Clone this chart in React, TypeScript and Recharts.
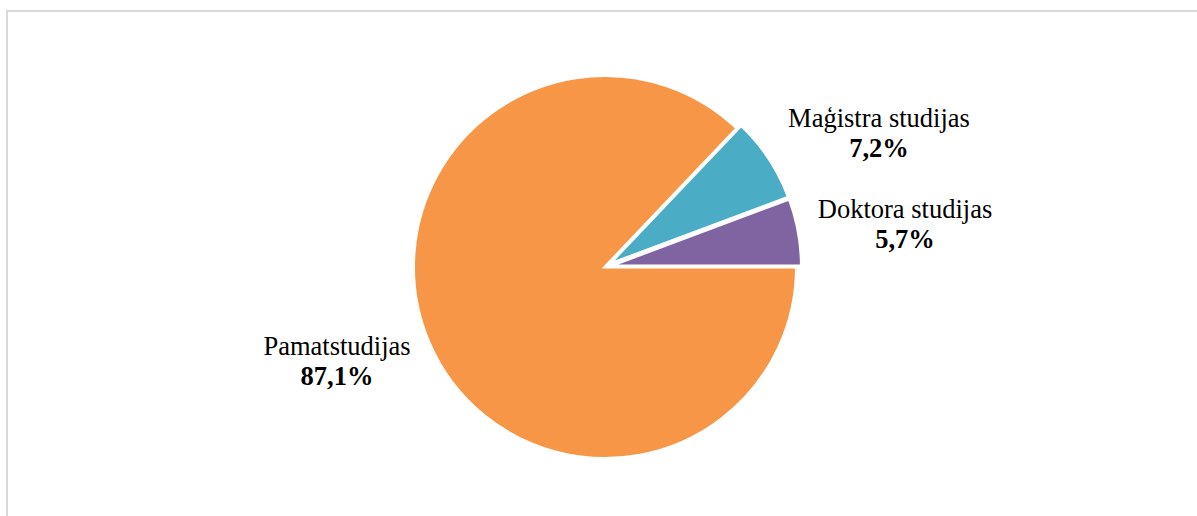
import { PieChart, Pie, Cell } from 'recharts';

// Study levels and their shares (%)
const categories = ['Doktora studijas', 'Maģistra studijas', 'Pamatstudijas'];
const shares = [5.7, 7.2, 87.1];
const labels = ['5,7%', '7,2%', '87,1%'];
const colors = ['#8064A2', '#4BACC6', '#F79646'];

const CX = 605;
const CY = 267;
const RADIUS = 191.5;
// small slices are pulled out a bit
const explode = [5, 5, 0];
// label anchor relative to pie center (name baseline)
const labelOffsets = [
  { dx: 300, dy: -49 },
  { dx: 274, dy: -140 },
  { dx: -268, dy: 88 },
];

const data = categories.map((name, i) => ({ name, value: shares[i], label: labels[i] }));
const total = shares.reduce((s, v) => s + v, 0);

function midAngle(index: number) {
  const before = shares.slice(0, index).reduce((s, v) => s + v, 0);
  return ((before + shares[index] / 2) / total) * 360;
}

const font = "'Liberation Serif', 'Times New Roman', serif";

function makeLabel(target: number) {
  return (props: any) => {
    if (props.index !== target) return null;
    const off = labelOffsets[target];
    const x = CX + off.dx;
    const y = CY + off.dy;
    return (
      <g>
        <text x={x} y={y} textAnchor="middle" fontSize={26.5} fill="#000" fontFamily={font}>
          {props.name}
        </text>
        <text x={x} y={y + 30} textAnchor="middle" fontSize={26.5} fontWeight="bold" fill="#000" fontFamily={font}>
          {props.payload.label}
        </text>
      </g>
    );
  };
}

export default function App() {
  // draw orange first, then the exploded slices on top
  const order = [2, 1, 0];
  return (
    <div style={{ position: 'fixed', left: 0, top: 0, width: 1197, height: 516, overflow: 'hidden', background: '#fff' }}>
      <div
        style={{
          position: 'absolute',
          left: 6,
          top: 10,
          width: 1200,
          height: 520,
          border: '2px solid #d9d9d9',
          boxSizing: 'border-box',
        }}
      />
      <div style={{ position: 'absolute', left: 0, top: 0 }}>
        <PieChart width={1197} height={516} margin={{ top: 0, right: 0, bottom: 0, left: 0 }}>
          {order.map(target => {
            const a = (midAngle(target) * Math.PI) / 180;
            const cx = CX + explode[target] * Math.cos(a);
            const cy = CY - explode[target] * Math.sin(a);
            return (
              <Pie
                key={target}
                data={data}
                dataKey="value"
                nameKey="name"
                cx={cx}
                cy={cy}
                outerRadius={RADIUS}
                startAngle={0}
                endAngle={360}
                labelLine={false}
                label={makeLabel(target)}
                isAnimationActive={false}
              >
                {data.map((d, i) => (
                  <Cell
                    key={d.name}
                    fill={i === target ? colors[i] : 'transparent'}
                    stroke={i === target ? '#fff' : 'none'}
                    strokeWidth={3}
                  />
                ))}
              </Pie>
            );
          })}
        </PieChart>
      </div>
    </div>
  );
}
